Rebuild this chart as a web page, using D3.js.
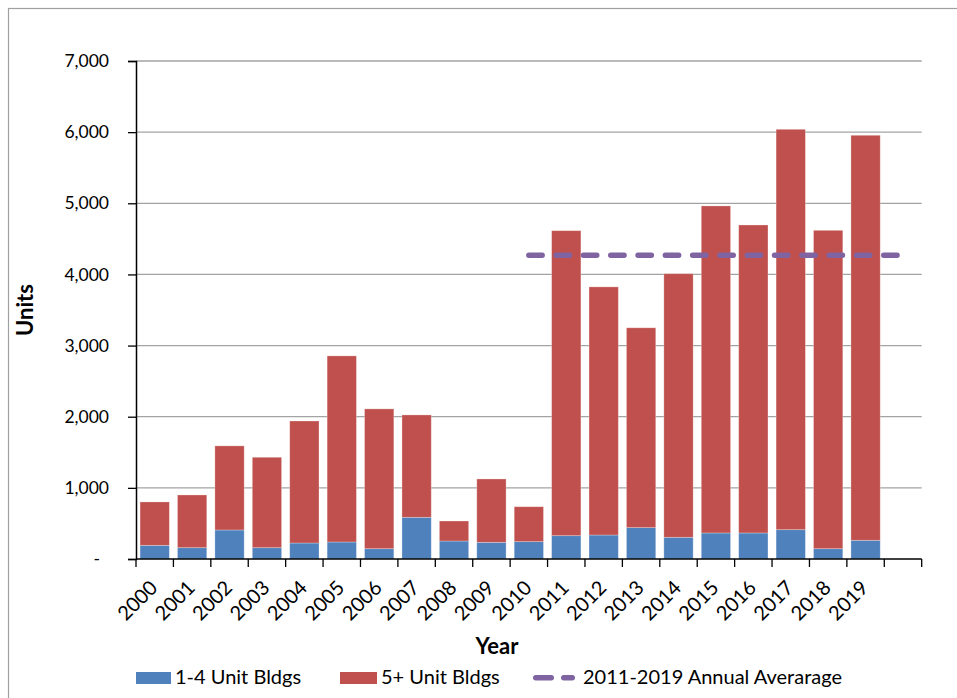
<!DOCTYPE html>
<html>
<head>
<meta charset="utf-8">
<script src="https://cdn.jsdelivr.net/npm/d3@7"></script>
<style>
  body { margin: 0; background: #fff; }
  svg { display: block; font-family: Lato, "Open Sans", sans-serif; }
</style>
</head>
<body>
<svg id="chart" width="957" height="698"></svg>
<script>
// Residential permits by building size, 2000-2019 (last slot left empty)
const years = ["2000","2001","2002","2003","2004","2005","2006","2007","2008","2009",
               "2010","2011","2012","2013","2014","2015","2016","2017","2018","2019"," "];
const smallBldgs = [192,159,408,159,225,239,145,586,253,234,
                    244,328,337,441,305,366,366,412,145,263];
const largeBldgs = [610,741,1182,1271,1715,2616,1965,1439,281,891,
                    491,4287,3488,2809,3705,4597,4329,5628,4475,5693];
const avgValue = 4270;
const avgSpan = ["2010", " "];
const yTicks = [0,1000,2000,3000,4000,5000,6000,7000];
const seriesNames = ["1-4 Unit Bldgs", "5+ Unit Bldgs", "2011-2019 Annual Averarage"];
const colors = { small: "#4f81bd", large: "#c0504d", avg: "#8064a2" };

const svg = d3.select("#chart");
const plotL = 136, plotR = 921.7, plotT = 61, plotB = 559;

// outer chart frame
svg.append("rect").attr("x", 8.5).attr("y", 8.5).attr("width", 960).attr("height", 700)
  .attr("fill", "none").attr("stroke", "#a0a0a0").attr("stroke-width", 1.2);

const pad = 0.217;
const x = d3.scaleBand().domain(years).range([plotL, plotR])
  .paddingInner(pad).paddingOuter(pad / 2);
const y = d3.scaleLinear().domain([0, 7000]).range([plotB, plotT]);
const step = x.step();

// horizontal gridlines
svg.append("g").selectAll("line").data(yTicks.filter(d => d > 0)).join("line")
  .attr("x1", plotL).attr("x2", plotR)
  .attr("y1", d => y(d)).attr("y2", d => y(d))
  .attr("stroke", "#a3a3a3").attr("stroke-width", 1.3);

// stacked bars
const rows = smallBldgs.map((s, i) => ({ year: years[i], small: s, large: largeBldgs[i] }));
const stack = d3.stack().keys(["small", "large"])(rows);
svg.append("g").selectAll("g").data(stack).join("g")
  .attr("fill", d => colors[d.key])
  .selectAll("rect").data(d => d).join("rect")
  .attr("x", d => x(d.data.year))
  .attr("width", x.bandwidth())
  .attr("y", d => y(d[1]))
  .attr("height", d => y(d[0]) - y(d[1]))
  .attr("stroke", "#ffffff").attr("stroke-opacity", 0.35).attr("stroke-width", 0.8);

// average line across 2011-2019
const avgPts = avgSpan.map(c => [x(c) + x.bandwidth() / 2, y(avgValue)]);
svg.append("path").attr("d", d3.line()(avgPts))
  .attr("fill", "none").attr("stroke", colors.avg).attr("stroke-width", 5.5)
  .attr("stroke-linecap", "round").attr("stroke-dasharray", "13.3,14");

// y axis
const yAxis = d3.axisLeft(y).tickValues(yTicks).tickSize(8).tickPadding(19)
  .tickFormat(d => d === 0 ? "-" : d3.format(",")(d));
const gy = svg.append("g").attr("transform", `translate(${plotL},0)`).call(yAxis);
gy.select(".domain").attr("stroke", "#000").attr("stroke-width", 1.5);
gy.selectAll(".tick line").attr("stroke", "#000").attr("stroke-width", 1.3);
gy.selectAll(".tick text").attr("font-size", 17.5).attr("fill", "#000")
  .attr("font-family", "Lato, sans-serif")
  .attr("dx", d => d === 0 ? -9 : 0);

// x axis: ticks sit on category boundaries
const xLine = svg.append("g");
xLine.append("line").attr("x1", plotL).attr("x2", plotR).attr("y1", plotB).attr("y2", plotB)
  .attr("stroke", "#000").attr("stroke-width", 1.5);
const edges = years.map(c => x(c) - step * pad / 2).concat([plotR]);
xLine.selectAll("line.t").data(edges).join("line").attr("class", "t")
  .attr("x1", d => d).attr("x2", d => d).attr("y1", plotB).attr("y2", plotB + 8)
  .attr("stroke", "#000").attr("stroke-width", 1.3);
xLine.selectAll("text").data(years).join("text")
  .attr("transform", c => `translate(${x(c) + x.bandwidth() / 2 + 4},${plotB + 30}) rotate(-45)`)
  .attr("text-anchor", "end").attr("font-size", 20).attr("fill", "#000")
  .text(c => c.trim());

// axis titles
svg.append("text").attr("x", 497).attr("y", 654).attr("text-anchor", "middle")
  .attr("font-size", 22).attr("font-weight", "bold").text("Year");
svg.append("text").attr("transform", "translate(33,310) rotate(-90)")
  .attr("text-anchor", "middle").attr("font-size", 22).attr("font-weight", "bold").text("Units");

// legend
const lg = svg.append("g").attr("font-size", 20).attr("fill", "#000");
lg.append("rect").attr("x", 136).attr("y", 672).attr("width", 35).attr("height", 12).attr("fill", colors.small);
lg.append("text").attr("x", 175).attr("y", 684).text(seriesNames[0]);
lg.append("rect").attr("x", 340).attr("y", 672).attr("width", 37).attr("height", 12).attr("fill", colors.large);
lg.append("text").attr("x", 381).attr("y", 684).text(seriesNames[1]);
lg.append("line").attr("x1", 535.75).attr("x2", 572.25).attr("y1", 677.7).attr("y2", 677.7)
  .attr("stroke", colors.avg).attr("stroke-width", 5.5).attr("stroke-linecap", "round")
  .attr("stroke-dasharray", "15.5,12.5");
lg.append("text").attr("x", 583).attr("y", 684).text(seriesNames[2]);
</script>
</body>
</html>
